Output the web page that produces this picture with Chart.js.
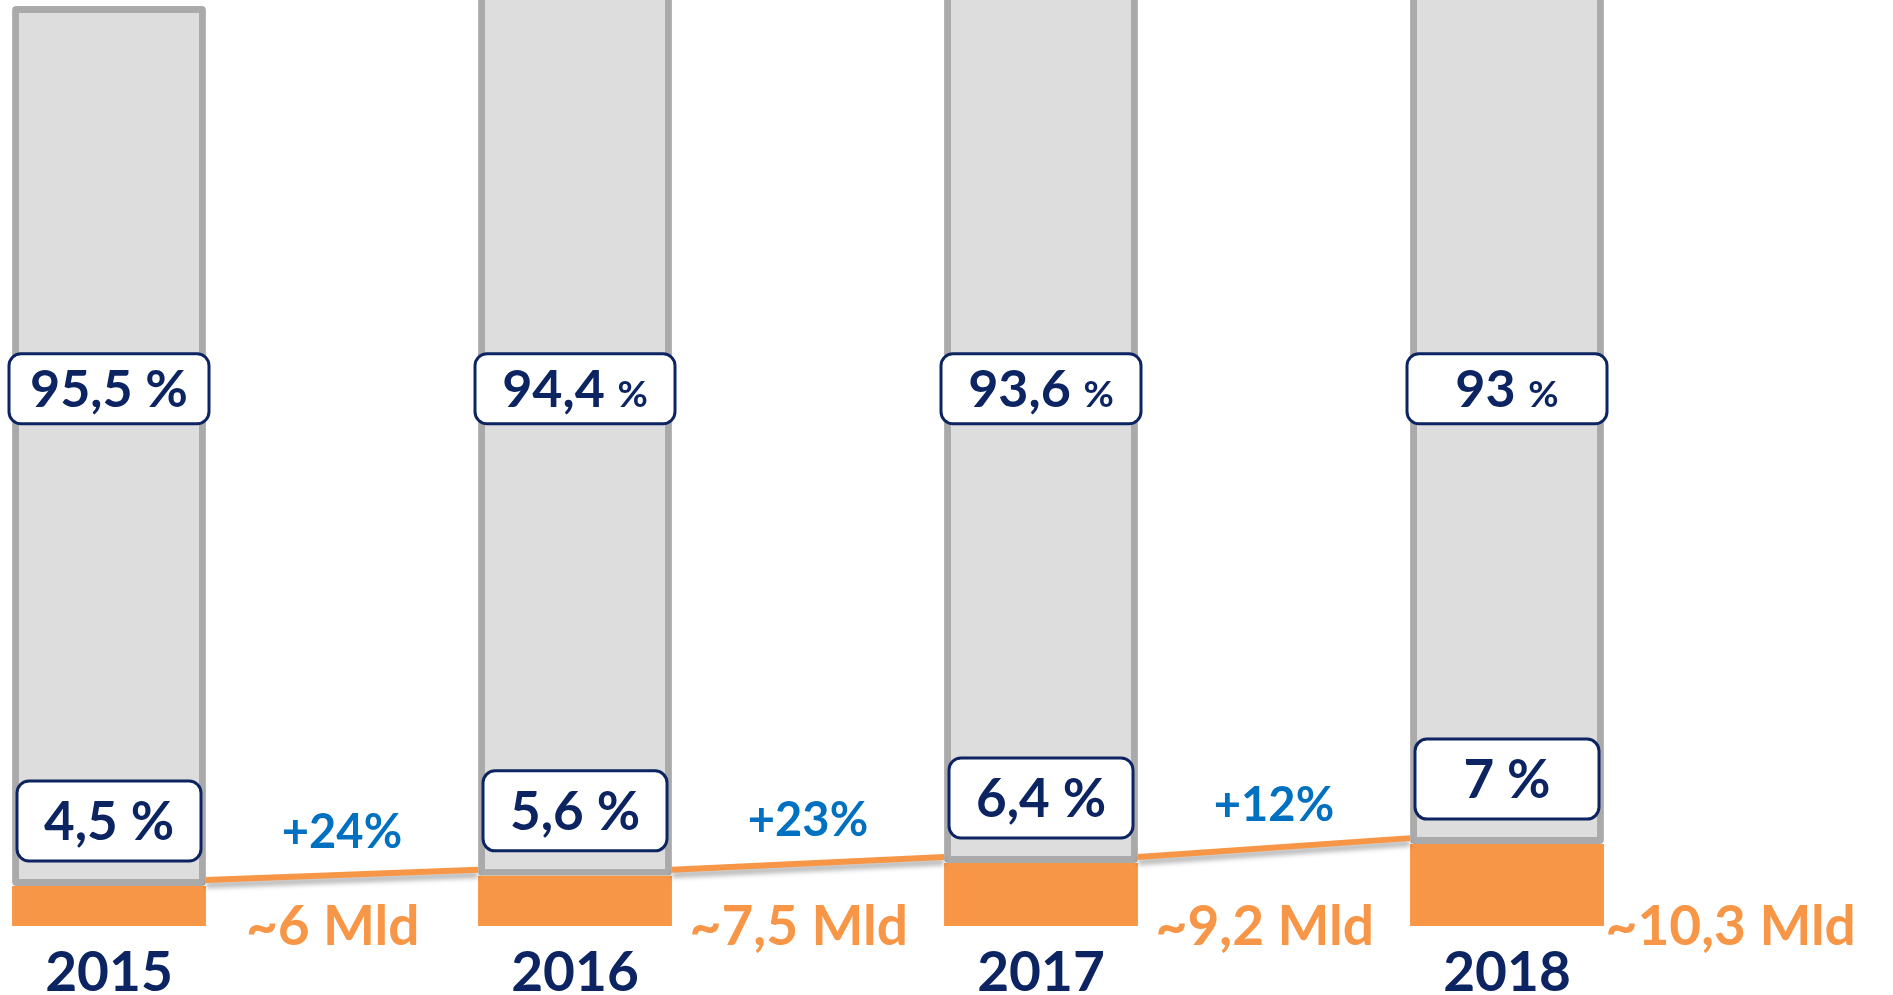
<!DOCTYPE html>
<html>
<head>
<meta charset="utf-8">
<script src="https://cdn.jsdelivr.net/npm/chart.js@4.4.1/dist/chart.umd.min.js"></script>
<style>
  html, body { margin: 0; padding: 0; background: #fff; overflow: hidden; }
  #wrap { position: relative; width: 1893px; height: 995px; overflow: hidden; }
  #box { position: absolute; left: -124px; top: 0; width: 2017px; height: 995px; }
</style>
</head>
<body>
<div id="wrap"><div id="box"><canvas id="chart"></canvas></div></div>
<script>
const years = ['2015', '2016', '2017', '2018'];
// segment heights as drawn, in % of the full 2015 bar
const orangePart = [4.35, 5.45, 6.85, 8.9];
const grayPart = [95.65, 96, 95, 94];
// printed labels
const shareLow = ['4,5', '5,6', '6,4', '7'];
const shareHigh = ['95,5', '94,4', '93,6', '93'];
const smallPct = [false, true, true, true];
const volumes = ['~6 Mld', '~7,5 Mld', '~9,2 Mld', '~10,3 Mld'];
const growth = ['+24%', '+23%', '+12%'];

const NAVY = '#0c2461';
const ORANGE = '#f79646';
const BLUE = '#0070c0';
const FONT = 'Lato, "Noto Sans", sans-serif';

function roundBox(ctx, cx, cy, w, h, r) {
  const x = cx - w / 2, y = cy - h / 2;
  ctx.beginPath();
  ctx.moveTo(x + r, y);
  ctx.arcTo(x + w, y, x + w, y + h, r);
  ctx.arcTo(x + w, y + h, x, y + h, r);
  ctx.arcTo(x, y + h, x, y, r);
  ctx.arcTo(x, y, x + w, y, r);
  ctx.closePath();
  ctx.fillStyle = '#fff';
  ctx.fill();
  ctx.lineWidth = 3;
  ctx.strokeStyle = NAVY;
  ctx.stroke();
}

// number + "%" centred on cx, cy
function pctText(ctx, num, cx, cy, size, pctSize) {
  ctx.fillStyle = NAVY;
  ctx.textBaseline = 'alphabetic';
  ctx.textAlign = 'left';
  ctx.font = 'bold ' + size + 'px ' + FONT;
  const a = ctx.measureText(num + ' ').width;
  ctx.font = 'bold ' + pctSize + 'px ' + FONT;
  const b = ctx.measureText('%').width;
  const x0 = cx - (a + b) / 2;
  const base = cy + size * 0.36;
  ctx.font = 'bold ' + size + 'px ' + FONT;
  ctx.fillText(num + ' ', x0, base);
  ctx.font = 'bold ' + pctSize + 'px ' + FONT;
  ctx.fillText('%', x0 + a, base);
}

const overlay = {
  id: 'overlay',
  afterDatasetsDraw(chart) {
    const ctx = chart.ctx;
    const bars = chart.getDatasetMeta(0).data;
    const y = chart.scales.y;

    // connectors between the orange tops
    ctx.save();
    ctx.strokeStyle = ORANGE;
    ctx.lineWidth = 6;
    ctx.shadowColor = 'rgba(0,0,0,0.3)';
    ctx.shadowBlur = 5;
    ctx.shadowOffsetY = 5;
    for (let i = 0; i < bars.length - 1; i++) {
      const a = bars[i], b = bars[i + 1];
      ctx.beginPath();
      ctx.moveTo(a.x + a.width / 2, a.y - 6);
      ctx.lineTo(b.x - b.width / 2, b.y - 6);
      ctx.stroke();
    }
    ctx.restore();

    ctx.save();
    const step = bars[1].x - bars[0].x;
    bars.forEach((bar, i) => {
      // upper share box
      const upY = y.getPixelForValue(58.4);
      roundBox(ctx, bar.x, upY, 200, 70, 12);
      pctText(ctx, shareHigh[i], bar.x, upY, 52, smallPct[i] ? 37 : 52);

      // lower share box
      const lowY = bar.y - 65;
      roundBox(ctx, bar.x, lowY, 184, 80, 12);
      pctText(ctx, shareLow[i], bar.x, lowY, 53, 53);

      // year
      ctx.fillStyle = NAVY;
      ctx.textAlign = 'center';
      ctx.font = 'bold 55px ' + FONT;
      ctx.fillText(years[i], bar.x, bar.base + 65);

      // volume
      ctx.fillStyle = ORANGE;
      ctx.font = 'bold 55px ' + FONT;
      ctx.fillText(volumes[i], bar.x + step * 0.48, bar.base + 19);

      // growth
      if (i < growth.length) {
        const nb = bars[i + 1];
        const midY = (bar.y + nb.y) / 2 - 6;
        ctx.fillStyle = BLUE;
        ctx.font = 'bold 47px ' + FONT;
        ctx.fillText(growth[i], bar.x + step / 2, midY - 27);
      }
    });
    ctx.restore();
  }
};

new Chart(document.getElementById('chart'), {
  type: 'bar',
  data: {
    labels: years,
    datasets: [
      {
        label: 'Digital',
        data: orangePart,
        backgroundColor: ORANGE,
        borderWidth: 0,
        borderRadius: 3,
        categoryPercentage: 1,
        barPercentage: 0.416
      },
      {
        label: 'Rest',
        data: grayPart,
        backgroundColor: '#dddddd',
        borderColor: '#aaaaaa',
        borderWidth: 7,
        borderSkipped: false,
        borderRadius: 4,
        categoryPercentage: 1,
        barPercentage: 0.416
      }
    ]
  },
  options: {
    responsive: true,
    maintainAspectRatio: false,
    animation: false,
    layout: { padding: { left: 0, right: 153, top: 0, bottom: 69 } },
    plugins: { legend: { display: false }, tooltip: { enabled: false } },
    scales: {
      x: { stacked: true, display: false },
      y: { stacked: true, display: false, min: 0, max: 100.65 }
    }
  },
  plugins: [overlay]
});
</script>
</body>
</html>
